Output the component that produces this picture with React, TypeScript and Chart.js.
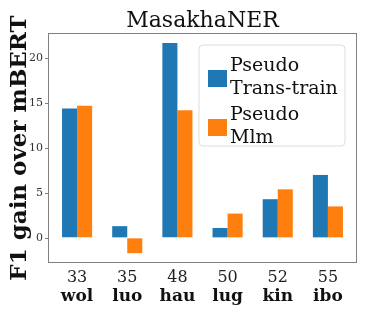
import React, { useEffect, useRef } from "react";
import { Chart, registerables } from "chart.js";

Chart.register(...registerables);

const numbers = ["33", "35", "48", "50", "52", "55"];
const languages = ["wol", "luo", "hau", "lug", "kin", "ibo"];
const transTrain = [14.4, 1.3, 21.7, 1.1, 4.3, 7.0];
const mlm = [14.7, -1.7, 14.2, 2.7, 5.4, 3.5];
const yTicks = [0, 5, 10, 15, 20];
const seriesNames = [["Pseudo", "Trans-train"], ["Pseudo", "Mlm"]];
const titleText = "MasakhaNER";
const yTitle = "F1 gain over mBERT";

const BLUE = "#1f77b4";
const ORANGE = "#ff7f0e";
const FONT = "'DejaVu Serif', serif";
const PAD = 4;

const decor = {
  id: "decor",
  afterDraw(chart: any) {
    const { ctx, chartArea: a } = chart;
    const L = a.left - PAD, R = a.right + PAD;
    ctx.save();
    // frame
    ctx.strokeStyle = "#808080";
    ctx.lineWidth = 1;
    ctx.strokeRect(L + 0.5, a.top + 0.5, R - L - 1, a.bottom - a.top - 1);
    // y tick marks
    const ys = chart.scales.y;
    ctx.beginPath();
    yTicks.forEach((v) => {
      const y = Math.round(ys.getPixelForValue(v)) + 0.5;
      ctx.moveTo(L - 3, y);
      ctx.lineTo(L, y);
    });
    ctx.stroke();
    // x labels (two rows)
    const xs = chart.scales.x;
    ctx.textAlign = "center";
    ctx.textBaseline = "alphabetic";
    numbers.forEach((n, i) => {
      const x = xs.getPixelForValue(i);
      ctx.fillStyle = "#222";
      ctx.font = `16px ${FONT}`;
      ctx.fillText(n, x, a.bottom + 19);
      ctx.fillStyle = "#111";
      ctx.font = `bold 17px ${FONT}`;
      ctx.fillText(languages[i], x, a.bottom + 38);
    });
    // title
    ctx.fillStyle = "#111";
    ctx.font = `22px ${FONT}`;
    ctx.fillText(titleText, (L + R) / 2, 27);
    // y title
    ctx.save();
    ctx.translate(26, (a.top + a.bottom) / 2);
    ctx.rotate(-Math.PI / 2);
    ctx.font = `bold 23px ${FONT}`;
    ctx.fillText(yTitle, 0, 0);
    ctx.restore();
    // legend
    const bx = 199, by = 45, bw = 146, bh = 101, r = 4;
    ctx.beginPath();
    ctx.moveTo(bx + r, by);
    ctx.arcTo(bx + bw, by, bx + bw, by + bh, r);
    ctx.arcTo(bx + bw, by + bh, bx, by + bh, r);
    ctx.arcTo(bx, by + bh, bx, by, r);
    ctx.arcTo(bx, by, bx + bw, by, r);
    ctx.closePath();
    ctx.fillStyle = "rgba(255,255,255,0.85)";
    ctx.fill();
    ctx.strokeStyle = "#dddddd";
    ctx.stroke();
    const colors = [BLUE, ORANGE];
    ctx.font = `19px ${FONT}`;
    ctx.textAlign = "left";
    seriesNames.forEach((lines, i) => {
      const top = 54 + i * 49;
      ctx.fillStyle = colors[i];
      ctx.fillRect(208, top + 16, 19, 17);
      ctx.fillStyle = "#111";
      lines.forEach((t, j) => ctx.fillText(t, 230, top + 17 + j * 23));
    });
    ctx.restore();
  },
};

export default function App() {
  const ref = useRef<HTMLCanvasElement>(null);
  useEffect(() => {
    document.body.style.margin = "0";
    const chart = new Chart(ref.current!, {
      type: "bar",
      data: {
        labels: numbers,
        datasets: [
          { label: "Pseudo Trans-train", data: transTrain, backgroundColor: BLUE },
          { label: "Pseudo Mlm", data: mlm, backgroundColor: ORANGE },
        ],
      },
      options: {
        animation: false,
        responsive: false,
        layout: { padding: { left: 0, right: 17 + PAD, top: 33, bottom: 49 } },
        datasets: { bar: { categoryPercentage: 0.6, barPercentage: 1 } },
        plugins: { legend: { display: false }, title: { display: false }, tooltip: { enabled: false } },
        scales: {
          x: {
            type: "category",
            offset: true,
            grid: { display: false },
            border: { display: false },
            ticks: { display: false },
            afterFit: (s: any) => { s.height = 0; },
          },
          y: {
            min: -2.8,
            max: 22.8,
            grid: { drawOnChartArea: false, drawTicks: false },
            border: { display: false },
            ticks: { color: "#333", font: { family: FONT, size: 11 }, padding: 5 + PAD },
            afterBuildTicks: (s: any) => { s.ticks = yTicks.map((v) => ({ value: v })); },
            afterFit: (s: any) => { s.width = 48 + PAD; },
          },
        },
      },
      plugins: [decor],
    } as any);
    return () => chart.destroy();
  }, []);
  return <canvas ref={ref} width={374} height={312} style={{ display: "block" }} />;
}
